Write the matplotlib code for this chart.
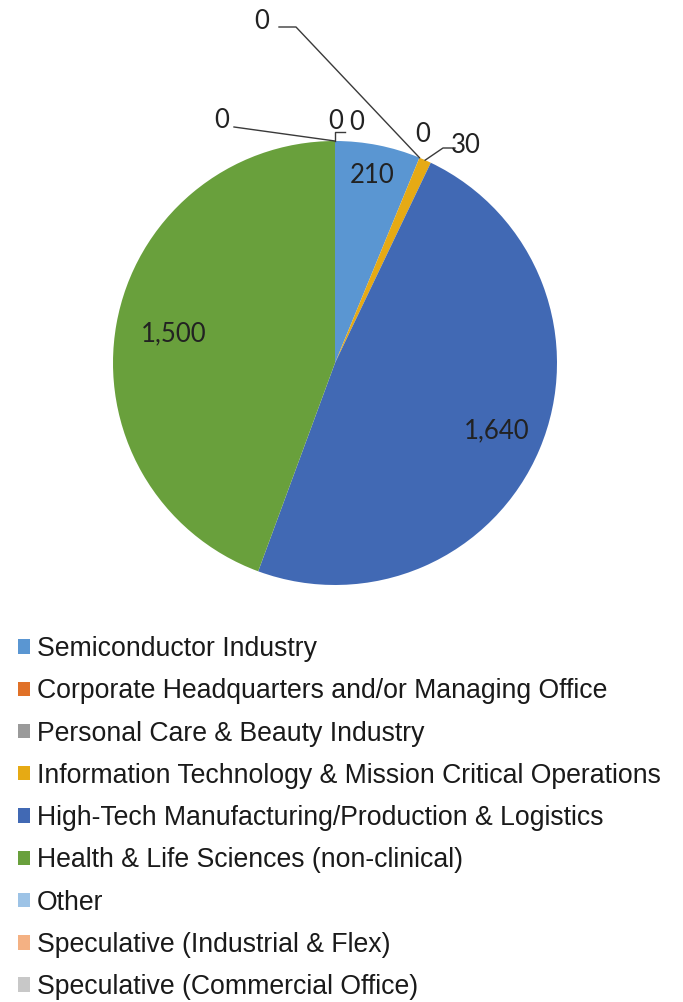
import numpy as np
import matplotlib.pyplot as plt

categories = [
    'Semiconductor Industry',
    'Corporate Headquarters and/or Managing Office',
    'Personal Care & Beauty Industry',
    'Information Technology & Mission Critical Operations',
    'High-Tech Manufacturing/Production & Logistics',
    'Health & Life Sciences (non-clinical)',
    'Other',
    'Speculative (Industrial & Flex)',
    'Speculative (Commercial Office)',
]
values = [210, 0, 0, 30, 1640, 1500, 0, 0, 0]
colors = ['#5A96D2', '#E07128', '#9A9A9A', '#E6AA14', '#4169B4',
          '#69A03C', '#9DC3E6', '#F4B183', '#C8C8C8']

W, H = 683, 1002
fig = plt.figure(figsize=(W / 100, H / 100), dpi=100)
ax = fig.add_axes([0, 0, 1, 1])

def Y(y):
    # y measured from the top edge -> axes y
    return H - y

cx, cy, R = 335, Y(363), 222
wedges, _ = ax.pie(values, colors=colors, startangle=90, counterclock=False,
                   center=(cx, cy), radius=R, wedgeprops=dict(linewidth=0),
                   frame=True)
ax.set_xlim(0, W)
ax.set_ylim(0, H)
ax.set_aspect('equal')
ax.axis('off')

num_font = dict(family='Lato', fontsize=18.5, color='#222222')
line_kw = dict(color='#3a3a3a', lw=1)

def fmt(v):
    return f'{v:,}'

def edge_point(w):
    t = np.deg2rad((w.theta1 + w.theta2) / 2)
    return cx + R * np.cos(t), cy + R * np.sin(t)

# inside labels for the big slices
inside_dist = {0: 0.86, 4: 0.79, 5: 0.74}
for i, d in inside_dist.items():
    w = wedges[i]
    t = np.deg2rad((w.theta1 + w.theta2) / 2)
    ax.text(cx + d * R * np.cos(t), cy + d * R * np.sin(t), fmt(values[i]),
            ha='center', va='center', **num_font)

# outside labels (small / zero slices) with leader lines
outside = {
    1: ((262, 21), [(279, 27), (296, 27)]),
    2: ((423, 134), []),
    3: ((466, 145), [(455, 148), (443, 148)]),
    6: ((222, 120), [(234, 127)]),
    7: ((336, 121), [(345, 132), (335, 132)]),
    8: ((357, 122), []),
}
for i, ((tx, ty), pts) in outside.items():
    ax.text(tx, Y(ty), fmt(values[i]), ha='center', va='center', **num_font)
    if pts:
        ex, ey = edge_point(wedges[i])
        xs = [p[0] for p in pts] + [ex]
        ys = [Y(p[1]) for p in pts] + [ey]
        ax.plot(xs, ys, **line_kw)

leg = ax.legend(wedges, categories, loc='upper left',
                bbox_to_anchor=(18, Y(636)), bbox_transform=ax.transData,
                frameon=False,
                prop=dict(family=['Liberation Sans', 'DejaVu Sans'], size=19.2),
                handlelength=0.45, handleheight=0.45, handletextpad=0.25,
                labelspacing=0.61, borderpad=0, borderaxespad=0)
for t in leg.get_texts():
    t.set_color('#1a1a1a')

fig.savefig('out.png', dpi=100, facecolor='white')
